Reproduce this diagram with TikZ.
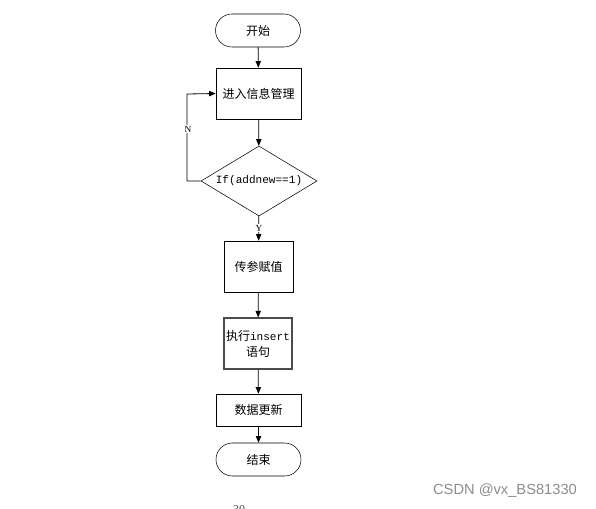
\documentclass[tikz,border=0pt]{standalone}
\usepackage{fontspec}
\setmainfont{Liberation Serif}
\newfontfamily\cjk{Noto Sans CJK SC}
\newfontfamily\mono{Liberation Mono}
\newfontfamily\wm{Liberation Sans}
\usetikzlibrary{shapes.geometric,shapes.misc,arrows.meta}
\begin{document}
\begin{tikzpicture}[x=0.75pt,y=-0.75pt,
  every node/.style={inner sep=0pt},
  term/.style={draw,rounded rectangle,minimum width=85*0.75pt,minimum height=33*0.75pt,font=\cjk\fontsize{9}{10}\selectfont},
  proc/.style={draw,rectangle,font=\cjk\fontsize{9}{10}\selectfont,align=center},
  dec/.style={draw,diamond,aspect=1.66,minimum width=116*0.75pt,minimum height=70*0.75pt,font=\mono\fontsize{8.3}{10}\selectfont},
  arr/.style={-{Triangle[length=5pt,width=4pt]},line width=0.6pt},
  lbl/.style={font=\fontsize{7}{8}\selectfont}]
\useasboundingbox (0,0) rectangle (596,508);
\clip (0,0) rectangle (596,508);
\node[term] (start) at (258,30.5) {开始};
\node[proc,minimum width=85*0.75pt,minimum height=51*0.75pt] (p1) at (258.5,93.5) {进入信息管理};
\node[dec] (d) at (259,181) {If(addnew==1)};
\node[proc,minimum width=69*0.75pt,minimum height=51*0.75pt] (p2) at (258.5,266.5) {传参赋值};
\node[proc,minimum width=68*0.75pt,minimum height=51*0.75pt,draw=black!70,line width=0.8pt] (p3) at (258,343.5) {执行{\mono\fontsize{8.3}{10}\selectfont insert}\\[2pt]语句};
\node[proc,minimum width=85*0.75pt,minimum height=32*0.75pt] (p4) at (258.5,410) {数据更新};
\node[term] (end) at (258.5,459.5) {结束};
\coordinate (lp) at (187,181);
\coordinate (lq) at (187,94);
\draw[arr] (start) -- (p1);
\draw[arr] (p1) -- (d);
\draw[arr] (d) -- (p2);
\draw[arr] (p2) -- (p3);
\draw[arr] (p3) -- (p4);
\draw[arr] (p4) -- (end);
\draw[arr] (d.west) -- (lp) -- (lq) -- (p1.west);
\node[lbl,fill=white,inner sep=1pt] (n) at (188,129) {N};
\node[lbl,fill=white,inner sep=1pt] (y) at (259,228) {Y};
\node[font=\wm\fontsize{11}{13}\selectfont,text=black!45] (wmk) at (505,491) {CSDN @vx\_BS81330};
\node[font=\fontsize{9}{10}\selectfont,text=black!70] (pg) at (239,510) {30};
\end{tikzpicture}
\end{document}
